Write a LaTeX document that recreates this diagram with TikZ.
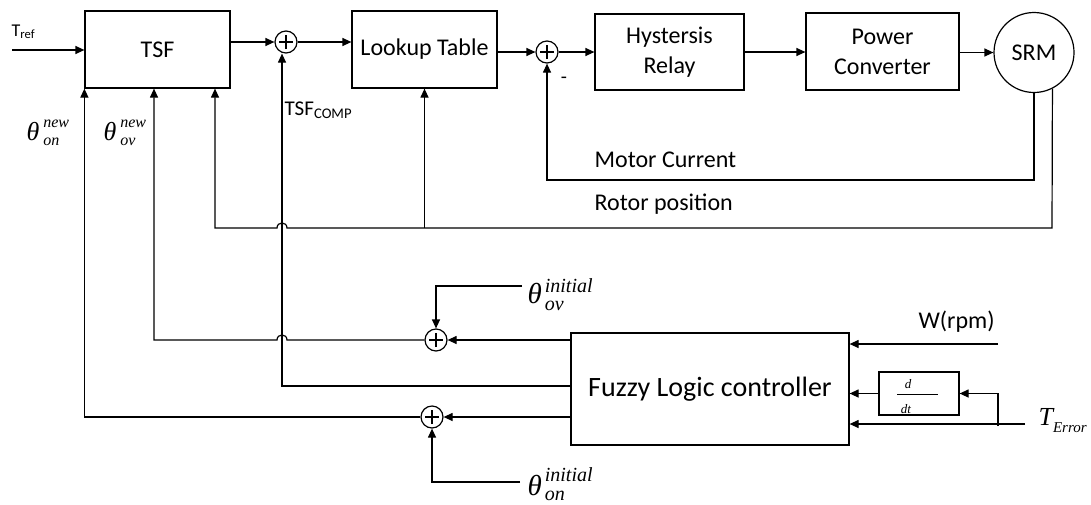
\documentclass[tikz,border=0pt]{standalone}
\usepackage{fontspec}
\setmainfont{Carlito}
\newfontfamily\tnr{Liberation Serif}
\usetikzlibrary{arrows.meta}
\newcommand{\fsz}[1]{\fontsize{#1}{#1}\selectfont}
\newcommand{\thetalab}[7]{{\tnr\itshape\fsz{#1}θ}\kern#7{\tnr\itshape\fsz{#2}\rlap{\raisebox{#5}{#3}}\raisebox{-#6}{#4}}}
\begin{document}
\begin{tikzpicture}[x=1pt,y=-1pt,line width=1.2pt,
  every node/.style={font=\fontsize{24}{30}\selectfont},
  arr/.style={-{Triangle[length=9pt,width=8pt]}},
  box/.style={draw,rectangle,inner sep=0},
  lab/.style={anchor=base west,inner sep=0},
  sumn/.style={draw,circle,minimum size=22,inner sep=0,
    path picture={\draw[line width=1.9pt]
      ([xshift=-7pt]path picture bounding box.center) -- ([xshift=7pt]path picture bounding box.center)
      ([yshift=-7pt]path picture bounding box.center) -- ([yshift=7pt]path picture bounding box.center);}}]
\useasboundingbox (0,0) rectangle (1091,504);

% blocks
\node[box,minimum width=145,minimum height=77] (tsf) at (157.5,49.5) {TSF};
\node[box,minimum width=145,minimum height=77] (lk) at (424.5,49.5) {Lookup Table};
\node[box,minimum width=149,minimum height=76,align=center] (hy) at (669.5,52) {Hystersis\\Relay};
\node[box,minimum width=153,minimum height=77,align=center] (pc) at (882.5,51.5) {Power\\Converter};
\node[draw,circle,minimum size=80,inner sep=0] (srm) at (1034,52.5) {SRM};
\node[box,minimum width=278,minimum height=112,font=\fsz{28}] (fz) at (710,389) {Fuzzy Logic controller};
\node[box,minimum width=80,minimum height=43] (dd) at (919,393.5) {};
\draw[line width=0.8pt] (897,394) -- (938,394);
\node[anchor=base,inner sep=0,font=\tnr\itshape\fsz{13}] (dnum) at (908,388) {d};
\node[anchor=base,inner sep=0,font=\tnr\itshape\fsz{13}] (dden) at (906,413) {dt};

% summing junctions
\node[sumn] (s1) at (286,42) {};
\node[sumn] (s2) at (547,52) {};
\node[sumn] (s3) at (436,340) {};
\node[sumn] (s4) at (432,417) {};

% forward path
\coordinate (tin) at (12,50);
\draw[arr] (tin) -- (tin -| tsf.west);
\draw[arr] (tsf.east |- s1) -- (s1);
\draw[arr] (s1) -- (s1 -| lk.west);
\draw[arr] (lk.east |- s2) -- (s2);
\draw[arr] (s2) -- (s2 -| hy.west);
\draw[arr] (hy.east |- s2) -- (s2 -| pc.west);
\draw[arr] (pc.east |- srm.west) -- (srm.west);

% motor current feedback
\coordinate (mc) at (1034,180);
\draw[arr] (srm.south) -- (mc) -| (s2.south);

% rotor position feedback
\coordinate (rp) at (1052,228);
\coordinate (rpl) at (215,228);
\draw[arr] (srm.-63.3) -- (rp) -- (287,228) .. controls (287,221.3) and (277,221.3) .. (277,228) -- (rpl) -- (rpl |- tsf.south);
\draw[arr] (lk.south |- rp) -- (lk.south);

% TSF_COMP
\coordinate (tc) at (282,386);
\draw[arr] (fz.west |- tc) -- (tc) -- (tc |- s1.south);

% theta ov
\coordinate (ovl) at (154,340);
\draw[arr] (s3) -- (287,340) .. controls (287,333.3) and (277,333.3) .. (277,340) -- (ovl) -- (ovl |- tsf.south);
\draw[arr] (fz.west |- s3) -- (s3);
\coordinate (ovi) at (522,286);
\draw[arr] (ovi) -| (s3.north);

% theta on
\draw[arr] (fz.west |- s4) -- (s4);
\draw[arr] (s4) -- (tsf.south west |- s4) -- (tsf.south west);
\coordinate (oni) at (520,482);
\draw[arr] (oni) -| (s4.south);

% fuzzy inputs
\coordinate (win) at (998,344);
\draw[arr] (win) -- (win -| fz.east);
\draw[arr] (dd.west) -- (dd.west -| fz.east);
\coordinate (ter) at (1025,424);
\draw[arr] (ter) -- (ter -| fz.east);
\coordinate (tb) at (998,426);
\draw[arr] (tb) |- (dd.east);

% labels
\node[lab,font=\fsz{18}] (ltr) at (11,36) {T\textsubscript{ref}};
\node[lab,font=\fsz{21}] (ltc) at (284,115) {TSF\textsubscript{COMP}};
\node[inner sep=0,font=\fsz{20}] (lminus) at (564,80) {-};
\node[lab] (lmc) at (594,167) {Motor Current};
\node[lab] (lrp) at (594,210) {Rotor position};
\node[lab] (lw) at (918,328) {W(rpm)};
\node[lab] (lonn) at (26,140) {\thetalab{26}{16}{new}{on}{13pt}{5pt}{4pt}};
\node[lab] (lovn) at (103,140) {\thetalab{26}{16}{new}{ov}{13pt}{5pt}{4pt}};
\node[lab] (lovi) at (527,303) {\thetalab{29}{20}{initial}{ov}{11pt}{7pt}{3pt}};
\node[lab] (loni) at (527,495) {\thetalab{29}{20}{initial}{on}{14pt}{5pt}{3pt}};
\node[lab] (lte) at (1038,425) {{\tnr\itshape\fsz{26}T}{\tnr\itshape\fsz{15}\raisebox{-7pt}{Error}}};
\end{tikzpicture}
\end{document}
